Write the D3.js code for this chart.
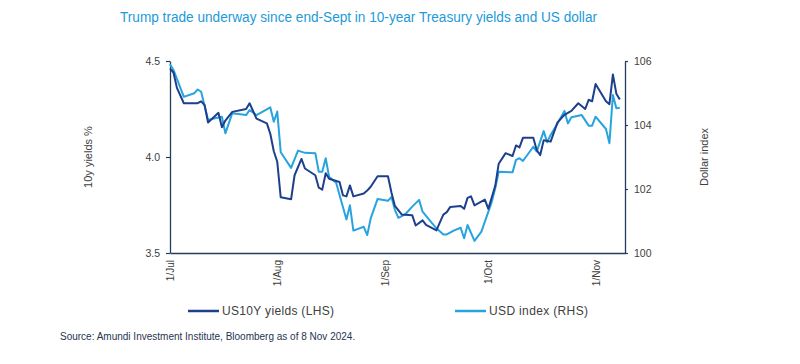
<!DOCTYPE html>
<html>
<head>
<meta charset="utf-8">
<script src="https://cdn.jsdelivr.net/npm/d3@7"></script>
<style>
  html, body { margin: 0; padding: 0; background: #fff; }
  svg { display: block; font-family: "Liberation Sans", Arial, sans-serif; }
</style>
</head>
<body>
<svg id="chart" width="800" height="364"></svg>
<script>
// US 10Y Treasury yield (%)
const yieldDates = [
  "2024-07-01","2024-07-02","2024-07-03","2024-07-05","2024-07-09","2024-07-10","2024-07-11","2024-07-12",
  "2024-07-15","2024-07-16","2024-07-17","2024-07-19","2024-07-23","2024-07-24","2024-07-26","2024-07-29",
  "2024-07-30","2024-07-31","2024-08-01","2024-08-02","2024-08-05","2024-08-06","2024-08-08","2024-08-09",
  "2024-08-12","2024-08-13","2024-08-14","2024-08-15","2024-08-16","2024-08-19","2024-08-20","2024-08-21",
  "2024-08-22","2024-08-23","2024-08-26","2024-08-27","2024-08-28","2024-08-30","2024-09-02","2024-09-03",
  "2024-09-04","2024-09-06","2024-09-09","2024-09-10","2024-09-12","2024-09-13","2024-09-16","2024-09-17",
  "2024-09-18","2024-09-19","2024-09-20","2024-09-23","2024-09-24","2024-09-25","2024-09-26","2024-09-27",
  "2024-09-30","2024-10-01","2024-10-02","2024-10-03","2024-10-04","2024-10-06","2024-10-08","2024-10-09",
  "2024-10-10","2024-10-11","2024-10-14","2024-10-15","2024-10-16","2024-10-17","2024-10-19","2024-10-21",
  "2024-10-23","2024-10-25","2024-10-27","2024-10-29","2024-10-30","2024-10-31","2024-11-01","2024-11-04",
  "2024-11-05","2024-11-06","2024-11-07","2024-11-08"
];
const yieldValues = [
  4.46, 4.44, 4.36, 4.28, 4.28, 4.29, 4.27, 4.18,
  4.23, 4.155, 4.19, 4.235, 4.25, 4.28, 4.20, 4.175,
  4.12, 4.03, 3.975, 3.79, 3.78, 3.905, 3.99, 3.94,
  3.905, 3.84, 3.83, 3.915, 3.887, 3.87, 3.80, 3.795,
  3.852, 3.795, 3.81, 3.825, 3.845, 3.90, 3.90, 3.815,
  3.745, 3.70, 3.697, 3.643, 3.67, 3.646, 3.618, 3.66,
  3.70, 3.713, 3.74, 3.745, 3.73, 3.787, 3.795, 3.748,
  3.778, 3.73, 3.79, 3.85, 3.965, 4.02, 4.005, 4.06,
  4.05, 4.10, 4.10, 4.035, 4.01, 4.087, 4.08, 4.18,
  4.22, 4.24, 4.28, 4.25, 4.298, 4.29, 4.38, 4.29,
  4.275, 4.43, 4.33, 4.30
];

// USD index
const usdDates = [
  "2024-07-01","2024-07-02","2024-07-05","2024-07-08","2024-07-09","2024-07-10","2024-07-12","2024-07-14",
  "2024-07-16","2024-07-17","2024-07-19","2024-07-23","2024-07-24","2024-07-26","2024-07-30","2024-07-31",
  "2024-08-01","2024-08-02","2024-08-05","2024-08-07","2024-08-09","2024-08-12","2024-08-13","2024-08-14",
  "2024-08-15","2024-08-16","2024-08-18","2024-08-19","2024-08-21","2024-08-22","2024-08-23","2024-08-26",
  "2024-08-27","2024-08-28","2024-08-30","2024-09-02","2024-09-03","2024-09-04","2024-09-05","2024-09-07",
  "2024-09-09","2024-09-11","2024-09-12","2024-09-14","2024-09-16","2024-09-18","2024-09-19","2024-09-21",
  "2024-09-23","2024-09-24","2024-09-25","2024-09-27","2024-09-29","2024-09-30","2024-10-02","2024-10-03",
  "2024-10-04","2024-10-08","2024-10-09","2024-10-10","2024-10-11","2024-10-14","2024-10-15","2024-10-17",
  "2024-10-18","2024-10-19","2024-10-21","2024-10-23","2024-10-24","2024-10-25","2024-10-28","2024-10-30",
  "2024-10-31","2024-11-01","2024-11-04","2024-11-05","2024-11-06","2024-11-07","2024-11-08"
];
const usdValues = [
  105.9, 105.72, 104.88, 104.99, 105.11, 105.04, 104.16, 104.21,
  104.26, 103.74, 104.37, 104.31, 104.47, 104.31, 104.55, 104.10,
  104.42, 103.15, 102.66, 103.2, 103.13, 103.12, 102.54, 102.54,
  102.96, 102.37, 102.2, 101.81, 101.05, 101.49, 100.7, 100.82,
  100.56, 101.08, 101.69, 101.63, 101.75, 101.35, 101.1, 101.21,
  101.45, 101.66, 101.29, 101.03, 100.77, 100.58, 100.58, 100.70,
  100.79, 100.46, 100.875, 100.38, 100.67, 100.98, 101.6, 102.02,
  102.54, 102.52, 102.91, 102.96, 102.875, 103.32, 103.17, 103.81,
  103.46, 103.69, 104.05, 104.44, 104.05, 104.24, 104.31, 103.98,
  103.98, 104.26, 103.875, 103.43, 104.94, 104.52, 104.54
];

const xTickDates = ["2024-07-01","2024-08-01","2024-09-01","2024-10-01","2024-11-01"];
const xTickLabels = ["1/Jul","1/Aug","1/Sep","1/Oct","1/Nov"];
const leftTicks = [3.5, 4.0, 4.5];
const rightTicks = [100, 102, 104, 106];

const seriesNames = ["US10Y yields (LHS)", "USD index (RHS)"];

const colors = { yields: "#1d3f8c", usd: "#27a3de", axis: "#223e5c", text: "#404040" };

const parse = d3.timeParse("%Y-%m-%d");
const yieldData = yieldDates.map((d, i) => ({ date: parse(d), value: yieldValues[i] }));
const usdData = usdDates.map((d, i) => ({ date: parse(d), value: usdValues[i] }));

const plot = { left: 170, right: 625, top: 61, bottom: 253 };

const svg = d3.select("#chart");

const x = d3.scaleTime()
    .domain([parse("2024-07-01"), new Date(2024, 10, 9, 12)])
    .range([plot.left, plot.right]);
const yLeft = d3.scaleLinear().domain([3.5, 4.5]).range([plot.bottom, plot.top]);
const yRight = d3.scaleLinear().domain([100, 106]).range([plot.bottom, plot.top]);

// title
svg.append("text")
    .attr("x", 120)
    .attr("y", 22)
    .attr("textLength", 477)
    .attr("lengthAdjust", "spacingAndGlyphs")
    .style("font-family", "'Liberation Sans Narrow', 'Arial Narrow', 'Liberation Sans', sans-serif")
    .style("font-size", "14px")
    .style("fill", "#1d9ad9")
    .text("Trump trade underway since end-Sept in 10-year Treasury yields and US dollar");

// left axis
const leftAxis = svg.append("g")
    .attr("transform", `translate(${plot.left},0)`)
    .call(d3.axisLeft(yLeft).tickValues(leftTicks).tickFormat(d3.format(".1f")).tickSize(4).tickSizeOuter(0).tickPadding(6));

// right axis
const rightAxis = svg.append("g")
    .attr("transform", `translate(${plot.right},0)`)
    .call(d3.axisRight(yRight).tickValues(rightTicks).tickFormat(d3.format("d")).tickSize(3).tickSizeOuter(0).tickPadding(6));

[leftAxis, rightAxis].forEach(a => {
    a.select(".domain").attr("stroke", colors.axis).attr("stroke-width", 1.3);
    a.selectAll(".tick line").attr("stroke", colors.axis).attr("stroke-width", 1.2);
    a.selectAll(".tick text")
        .style("font-size", "10.5px")
        .style("fill", colors.text)
        .style("font-family", "'Liberation Sans', Arial, sans-serif");
});

// bottom axis, labels rotated
const bottomAxis = svg.append("g")
    .attr("transform", `translate(0,${plot.bottom})`)
    .call(d3.axisBottom(x)
        .tickValues(xTickDates.map(parse))
        .tickFormat((d, i) => xTickLabels[i])
        .tickSize(0)
        .tickSizeOuter(0));

bottomAxis.select(".domain").attr("stroke", colors.axis).attr("stroke-width", 1.3);
bottomAxis.selectAll(".tick text")
    .attr("transform", "rotate(-90)")
    .attr("x", -7)
    .attr("y", 0)
    .attr("dy", "0.35em")
    .style("text-anchor", "end")
    .style("font-size", "10px")
    .style("fill", colors.text)
    .style("font-family", "'Liberation Sans', Arial, sans-serif");

// axis titles
svg.append("text")
    .attr("transform", `translate(92,${(plot.top + plot.bottom) / 2}) rotate(-90)`)
    .attr("text-anchor", "middle")
    .style("font-size", "11px")
    .style("fill", colors.text)
    .text("10y yields %");

svg.append("text")
    .attr("transform", `translate(708,${(plot.top + plot.bottom) / 2}) rotate(-90)`)
    .attr("text-anchor", "middle")
    .style("font-size", "11px")
    .style("fill", colors.text)
    .text("Dollar index");

// lines
const lineLeft = d3.line().x(d => x(d.date)).y(d => yLeft(d.value));
const lineRight = d3.line().x(d => x(d.date)).y(d => yRight(d.value));

svg.append("path")
    .datum(usdData)
    .attr("fill", "none")
    .attr("stroke", colors.usd)
    .attr("stroke-width", 2)
    .attr("stroke-linejoin", "round")
    .attr("d", lineRight);

svg.append("path")
    .datum(yieldData)
    .attr("fill", "none")
    .attr("stroke", colors.yields)
    .attr("stroke-width", 2)
    .attr("stroke-linejoin", "round")
    .attr("d", lineLeft);

// legend
const legendItems = [
    { name: seriesNames[0], color: colors.yields, x: 188, width: 112 },
    { name: seriesNames[1], color: colors.usd, x: 455, width: 99 }
];
const legend = svg.append("g").attr("transform", "translate(0,311)");
legendItems.forEach(item => {
    legend.append("line")
        .attr("x1", item.x).attr("x2", item.x + 31)
        .attr("y1", 0).attr("y2", 0)
        .attr("stroke", item.color)
        .attr("stroke-width", 2.5);
    legend.append("text")
        .attr("x", item.x + 34)
        .attr("y", 4)
        .attr("textLength", item.width)
        .attr("lengthAdjust", "spacing")
        .style("font-size", "12px")
        .style("fill", colors.text)
        .text(item.name);
});

// source
svg.append("text")
    .attr("x", 60)
    .attr("y", 340)
    .style("font-size", "10px")
    .style("fill", "#1f3550")
    .text("Source: Amundi Investment Institute, Bloomberg as of 8 Nov 2024.");
</script>
</body>
</html>
